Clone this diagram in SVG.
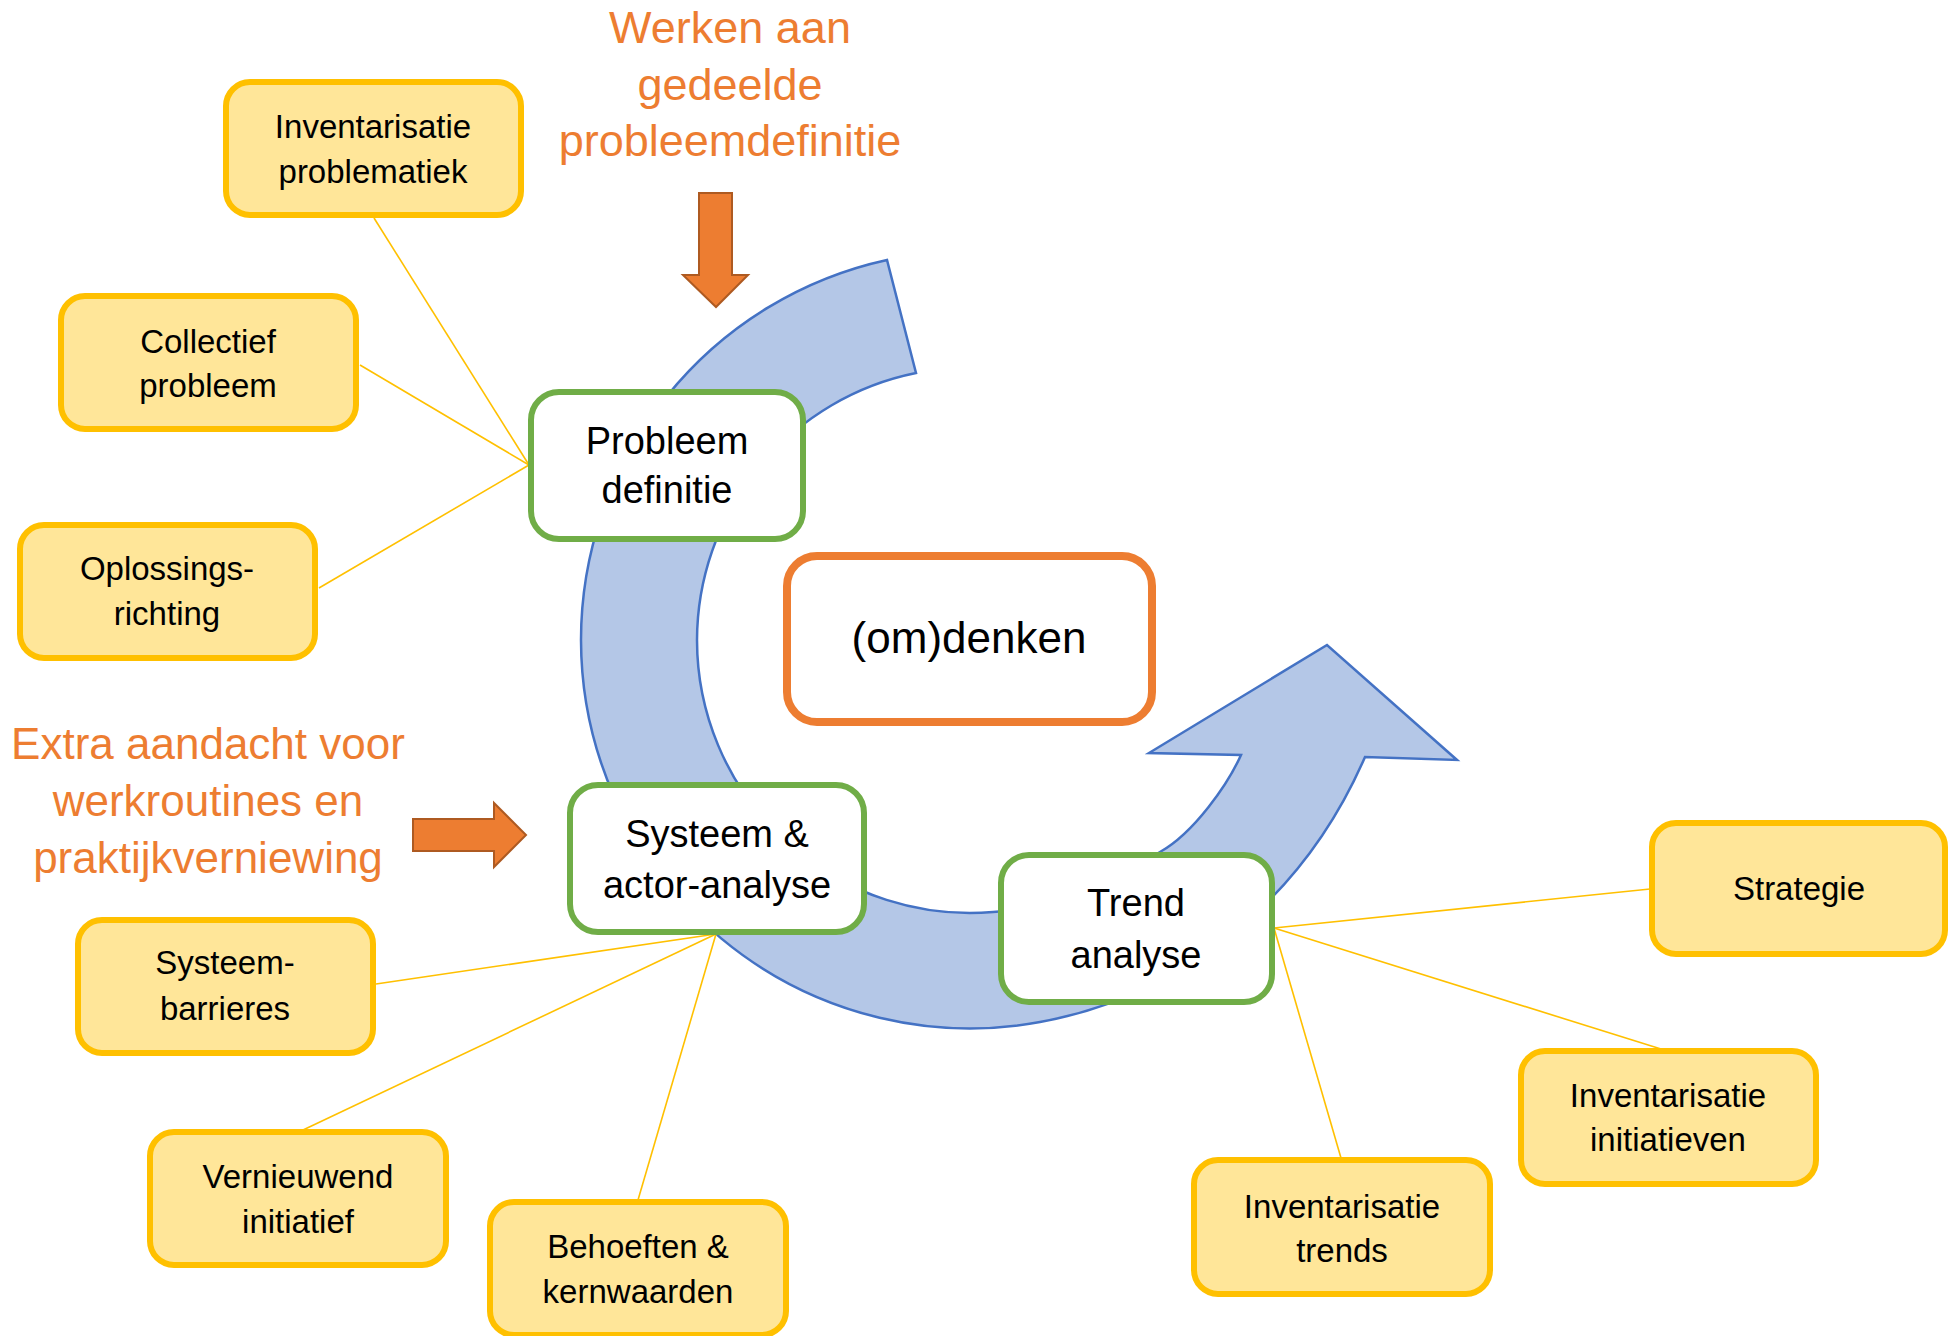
<svg xmlns="http://www.w3.org/2000/svg" width="1949" height="1336" viewBox="0 0 1949 1336">
<style>
.yb{fill:#FFE699;stroke:#FFC000;stroke-width:6}
.gb{fill:#FFFFFF;stroke:#70AD47;stroke-width:6}
.ob{fill:#FFFFFF;stroke:#ED7D31;stroke-width:8}
.yt{font-family:"Liberation Sans",Arial,sans-serif;font-size:33px;fill:#000000;text-anchor:middle}
.gt{font-family:"Liberation Sans",Arial,sans-serif;font-size:38px;fill:#000000;text-anchor:middle}
.ot{font-family:"Liberation Sans",Arial,sans-serif;font-size:45px;fill:#ED7D31;text-anchor:middle}
.con line{stroke:#FFC000;stroke-width:1.6}
.oa{fill:#ED7D31;stroke:#AE5A21;stroke-width:2}
</style>
<rect width="1949" height="1336" fill="#FFFFFF"/>
<g id="cycle-arrow">
<path d="M887,260 A389,389 0 0 0 581,640 A389,389 0 0 0 1040,1022 C1188,995 1305,895 1365,757 L1457,760 L1327,645 L1149,753 L1241,755 C1228,784 1194,833 1160,852 C1110,885 1040,910 993,912 A273,273 0 0 1 697,640 A273,273 0 0 1 916,373 Z" fill="#B4C7E7" stroke="#4472C4" stroke-width="2.5" stroke-linejoin="miter"/>
</g>
<g id="label-top">
<text class="ot" x="730" y="43">Werken aan</text>
<text class="ot" x="730" y="100">gedeelde</text>
<text class="ot" x="730" y="156">probleemdefinitie</text>
<path class="oa" d="M699,193 L732,193 L732,275 L748,275 L716,307 L683,275 L699,275 Z"/>
</g>
<g id="label-left">
<text class="ot" x="208" y="759" style="font-size:44px">Extra aandacht voor</text>
<text class="ot" x="208" y="816" style="font-size:44px">werkroutines en</text>
<text class="ot" x="208" y="873" style="font-size:44px">praktijkverniewing</text>
<path class="oa" d="M413,819 L494,819 L494,803 L526,835 L494,867 L494,851 L413,851 Z"/>
</g>
<g id="connectors" class="con">
<line x1="374" y1="218" x2="529" y2="465"/>
<line x1="360" y1="365" x2="529" y2="465"/>
<line x1="319" y1="588" x2="529" y2="465"/>
<line x1="716" y1="934" x2="376" y2="984"/>
<line x1="716" y1="934" x2="303" y2="1130"/>
<line x1="716" y1="934" x2="638" y2="1200"/>
<line x1="1274" y1="928" x2="1650" y2="889"/>
<line x1="1274" y1="928" x2="1661" y2="1049"/>
<line x1="1274" y1="928" x2="1341" y2="1158"/>
</g>
<g id="probleem-definitie">
<rect class="gb" x="531" y="392" width="272" height="147" rx="28"/>
<text class="gt" x="667" y="454">Probleem</text>
<text class="gt" x="667" y="503">definitie</text>
</g>
<g id="systeem-actor">
<rect class="gb" x="570" y="785" width="294" height="147" rx="28"/>
<text class="gt" x="717" y="847">Systeem &amp;</text>
<text class="gt" x="717" y="898">actor-analyse</text>
</g>
<g id="trend-analyse">
<rect class="gb" x="1001" y="855" width="271" height="147" rx="28"/>
<text class="gt" x="1136" y="916">Trend</text>
<text class="gt" x="1136" y="968">analyse</text>
</g>
<g id="omdenken">
<rect class="ob" x="787" y="556" width="365" height="166" rx="30"/>
<text class="gt" x="969" y="653" style="font-size:44px">(om)denken</text>
</g>
<g id="inv-problematiek">
<rect class="yb" x="226" y="82" width="295" height="133" rx="24"/>
<text class="yt" x="373" y="138">Inventarisatie</text>
<text class="yt" x="373" y="183">problematiek</text>
</g>
<g id="collectief-probleem">
<rect class="yb" x="61" y="296" width="295" height="133" rx="24"/>
<text class="yt" x="208" y="353">Collectief</text>
<text class="yt" x="208" y="397">probleem</text>
</g>
<g id="oplossingsrichting">
<rect class="yb" x="20" y="525" width="295" height="133" rx="24"/>
<text class="yt" x="167" y="580">Oplossings-</text>
<text class="yt" x="167" y="625">richting</text>
</g>
<g id="systeembarrieres">
<rect class="yb" x="78" y="920" width="295" height="133" rx="24"/>
<text class="yt" x="225" y="974">Systeem-</text>
<text class="yt" x="225" y="1020">barrieres</text>
</g>
<g id="vernieuwend-initiatief">
<rect class="yb" x="150" y="1132" width="296" height="133" rx="24"/>
<text class="yt" x="298" y="1188">Vernieuwend</text>
<text class="yt" x="298" y="1233">initiatief</text>
</g>
<g id="behoeften-kernwaarden">
<rect class="yb" x="490" y="1202" width="296" height="133" rx="24"/>
<text class="yt" x="638" y="1258">Behoeften &amp;</text>
<text class="yt" x="638" y="1303">kernwaarden</text>
</g>
<g id="inv-trends">
<rect class="yb" x="1194" y="1160" width="296" height="134" rx="24"/>
<text class="yt" x="1342" y="1218">Inventarisatie</text>
<text class="yt" x="1342" y="1262">trends</text>
</g>
<g id="inv-initiatieven">
<rect class="yb" x="1521" y="1051" width="295" height="133" rx="24"/>
<text class="yt" x="1668" y="1107">Inventarisatie</text>
<text class="yt" x="1668" y="1151">initiatieven</text>
</g>
<g id="strategie">
<rect class="yb" x="1652" y="823" width="293" height="131" rx="24"/>
<text class="yt" x="1799" y="900">Strategie</text>
</g>
</svg>
